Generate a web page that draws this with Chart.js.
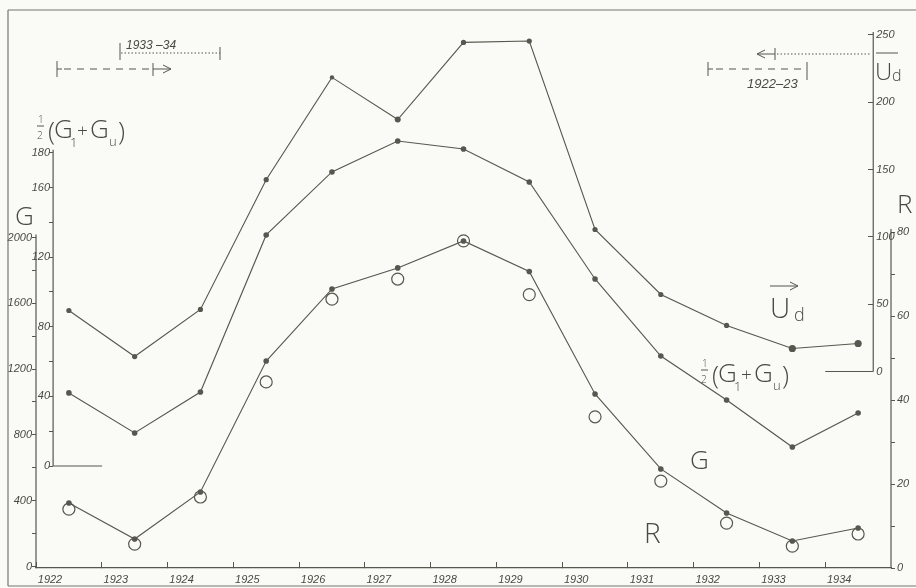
<!DOCTYPE html>
<html>
<head>
<meta charset="utf-8">
<title>G, ½(G1+Gu), Ud, R 1922–1934</title>
<script src="https://cdn.jsdelivr.net/npm/chart.js@4.4.1/dist/chart.umd.min.js"></script>
<style>
    html, body { margin: 0; padding: 0; background: #fafaf6; }
    #grafico { display: block; }
</style>
</head>
<body>
<canvas id="grafico" width="916" height="588"></canvas>
<script>
// ====================================
// Datos por año (punto a mitad de año)
// ====================================
const anos = [1922, 1923, 1924, 1925, 1926, 1927, 1928, 1929, 1930, 1931, 1932, 1933, 1934];
const valoresUd = [45.3, 11.1, 46.1, 142.5, 218.5, 187.2, 244.5, 245.5, 105.5, 57.2, 34.2, 17.1, 20.8];
const valoresMedia = [42.0, 19.0, 42.5, 132.8, 169.0, 186.8, 182.2, 163.2, 107.5, 63.2, 37.9, 10.9, 30.5];
const valoresG = [386, 167, 453, 1249, 1687, 1815, 1979, 1793, 1049, 593, 325, 155, 234];
const valoresR = [14.0, 5.7, 16.9, 44.3, 64.0, 68.8, 77.9, 65.1, 36.0, 20.7, 10.7, 5.2, 8.1];

// marcas de cada eje
const ticksG = [0, 200, 400, 600, 800, 1000, 1200, 1400, 1600, 1800, 2000];
const ticksMedia = [0, 20, 40, 60, 80, 100, 120, 140, 160, 180];
const etiquetasMedia = [0, 40, 80, 120, 160, 180];
const ticksUd = [0, 50, 100, 150, 200, 250];
const ticksR = [0, 10, 20, 30, 40, 50, 60, 70, 80];

// posicion de los ejes interiores (en años)
const posEjeMedia = 1922.26;
const posEjeUd = 1934.73;

const colorLinea = '#57574f';
const colorTexto = '#4a4a43';
const fuenteTicks = { family: 'Liberation Sans', size: 11, style: 'italic' };
const fuenteLetra = '300 26px "Open Sans", sans-serif';

function puntos(valores) {
    return anos.map((a, i) => ({ x: a + 0.5, y: valores[i] }));
}

function ejeY(extra) {
    return Object.assign({
        type: 'linear',
        border: { display: false },
        grid: { drawOnChartArea: false, drawTicks: true, tickLength: 4, color: colorLinea, lineWidth: 1 },
        ticks: { font: fuenteTicks, color: colorTexto, autoSkip: false, padding: 1 }
    }, extra);
}

//linea con punta de flecha en x2
function flecha(ctx, x1, y, x2) {
    const d = x2 > x1 ? -1 : 1;
    ctx.beginPath();
    ctx.moveTo(x1, y);
    ctx.lineTo(x2, y);
    ctx.moveTo(x2 + d * 8, y - 4);
    ctx.lineTo(x2, y);
    ctx.lineTo(x2 + d * 8, y + 4);
    ctx.stroke();
}

function barra(ctx, x, y1, y2) {
    ctx.beginPath();
    ctx.moveTo(x, y1);
    ctx.lineTo(x, y2);
    ctx.stroke();
}

function linea(ctx, x1, y1, x2, y2, trazos) {
    ctx.setLineDash(trazos || []);
    ctx.beginPath();
    ctx.moveTo(x1, y1);
    ctx.lineTo(x2, y2);
    ctx.stroke();
    ctx.setLineDash([]);
}

//rotulo ½(G1+Gu)
function dibujarMedia(ctx, x0, base) {
    ctx.font = '300 10px "Open Sans", sans-serif';
    ctx.fillText('1', x0 + 2, base - 15);
    ctx.fillText('2', x0 + 1, base + 1);
    linea(ctx, x0 + 1, base - 12, x0 + 8, base - 12);
    ctx.font = fuenteLetra;
    ctx.fillText('(', x0 + 12, base + 2);
    ctx.fillText('G', x0 + 18, base);
    ctx.fillText('G', x0 + 54, base);
    ctx.fillText(')', x0 + 82, base + 2);
    ctx.font = '300 19px "Open Sans", sans-serif';
    ctx.fillText('+', x0 + 41, base - 1);
    ctx.font = '300 13px "Open Sans", sans-serif';
    ctx.fillText('1', x0 + 34, base + 9);
    ctx.fillText('u', x0 + 73, base + 8);
}

// plugin: fondo, marco, ejes parciales y rotulos
const decoracion = {
    id: 'decoracion',
    beforeDraw(chart) {
        const ctx = chart.ctx;
        ctx.save();
        ctx.fillStyle = '#fafaf6';
        ctx.fillRect(0, 0, chart.width, chart.height);
        ctx.restore();
    },
    afterDraw(chart) {
        const ctx = chart.ctx;
        const area = chart.chartArea;
        const sx = chart.scales.x;
        const sG = chart.scales.yG;
        const sM = chart.scales.yMedia;
        const sU = chart.scales.yUd;
        const sR = chart.scales.yR;
        const xMedia = sx.getPixelForValue(posEjeMedia);
        const xUd = sx.getPixelForValue(posEjeUd);

        ctx.save();
        ctx.strokeStyle = colorLinea;
        ctx.fillStyle = colorTexto;
        ctx.lineWidth = 1.2;

        //marco
        ctx.strokeStyle = '#77776f';
        linea(ctx, 8, 10, 916, 10);
        linea(ctx, 8, 10, 8, 586);
        linea(ctx, 8, 586, 916, 586);
        ctx.strokeStyle = colorLinea;

        //lineas de los ejes verticales
        linea(ctx, area.left, area.bottom, area.left, sG.getPixelForValue(2000) - 3);
        linea(ctx, xMedia, sM.getPixelForValue(0), xMedia, sM.getPixelForValue(180) - 3);
        linea(ctx, xMedia, sM.getPixelForValue(0), xMedia + 49, sM.getPixelForValue(0));
        linea(ctx, xUd, sU.getPixelForValue(0), xUd, sU.getPixelForValue(250) - 3);
        linea(ctx, xUd - 48, sU.getPixelForValue(0), xUd, sU.getPixelForValue(0));
        linea(ctx, area.right, area.bottom, area.right, sR.getPixelForValue(80) - 3);

        //etiquetas de los ejes interiores
        ctx.font = 'italic 11px "Liberation Sans"';
        ctx.textBaseline = 'middle';
        ctx.textAlign = 'right';
        etiquetasMedia.forEach(v => ctx.fillText(String(v), xMedia - 3, sM.getPixelForValue(v)));
        ctx.textAlign = 'left';
        sU.ticks.forEach(t => ctx.fillText(String(t.value), xUd + 3, sU.getPixelForValue(t.value)));

        ctx.textBaseline = 'alphabetic';
        ctx.lineWidth = 1;

        //periodos arriba a la izquierda
        ctx.font = 'italic 12px "Liberation Sans"';
        ctx.fillText('1933 –34', 126, 49);
        linea(ctx, 121, 53, 220, 53, [1.5, 2]);
        barra(ctx, 120, 43, 60);
        barra(ctx, 220, 47, 60);
        barra(ctx, 57, 61, 77);
        linea(ctx, 57, 69, 62, 69);
        linea(ctx, 64, 69, 150, 69, [7, 6]);
        barra(ctx, 153, 63, 76);
        flecha(ctx, 153, 69, 171);

        //periodos arriba a la derecha
        flecha(ctx, 775, 54, 757);
        barra(ctx, 775, 48, 60);
        linea(ctx, 777, 54, xUd - 2, 54, [1.5, 2]);
        barra(ctx, 708, 62, 76);
        linea(ctx, 708, 69, 713, 69);
        linea(ctx, 716, 69, 803, 69, [7, 6]);
        barra(ctx, 807, 62, 80);
        ctx.font = 'italic 13px "Liberation Sans"';
        ctx.fillText('1922–23', 747, 88);

        //nombres de los ejes
        dibujarMedia(ctx, 36, 138);
        ctx.font = fuenteLetra;
        ctx.fillText('G', 15, 225);
        ctx.fillText('R', 897, 213);
        linea(ctx, 876, 53, 898, 53);
        ctx.font = '300 24px "Open Sans", sans-serif';
        ctx.fillText('U', 875, 80);
        ctx.font = '300 16px "Open Sans", sans-serif';
        ctx.fillText('d', 892, 81);

        //nombres de las curvas
        dibujarMedia(ctx, 700, 382);
        ctx.font = fuenteLetra;
        ctx.fillText('G', 690, 469);
        ctx.font = '300 28px "Open Sans", sans-serif';
        ctx.fillText('R', 644, 543);
        ctx.fillText('U', 770, 318);
        ctx.font = '300 18px "Open Sans", sans-serif';
        ctx.fillText('d', 794, 321);
        flecha(ctx, 770, 286, 798);

        ctx.restore();
    }
};

function estiloSerie(extra) {
    return Object.assign({
        borderColor: colorLinea,
        borderWidth: 1.1,
        tension: 0,
        pointRadius: 2.8,
        pointBackgroundColor: colorLinea,
        pointBorderWidth: 0
    }, extra);
}

new Chart(document.getElementById('grafico'), {
    type: 'line',
    data: {
        datasets: [
            estiloSerie({ label: 'Ud', data: puntos(valoresUd), yAxisID: 'yUd',
                pointRadius: [2.6, 2.6, 2.6, 2.6, 2.2, 3, 2.6, 2.6, 2.6, 2.6, 2.6, 3.6, 3.6] }),
            estiloSerie({ label: '½(G1+Gu)', data: puntos(valoresMedia), yAxisID: 'yMedia' }),
            estiloSerie({ label: 'G', data: puntos(valoresG), yAxisID: 'yG' }),
            {
                label: 'R',
                data: puntos(valoresR),
                yAxisID: 'yR',
                showLine: false,
                pointRadius: 6,
                pointBackgroundColor: 'rgba(0,0,0,0)',
                pointBorderColor: colorLinea,
                pointBorderWidth: 1.2
            }
        ]
    },
    options: {
        responsive: false,
        animation: false,
        devicePixelRatio: 1,
        layout: { padding: { top: 20, left: 0, right: 0, bottom: 0 } },
        plugins: {
            legend: { display: false },
            tooltip: { enabled: false }
        },
        scales: {
            x: {
                type: 'linear',
                position: 'bottom',
                min: 1922,
                max: 1935,
                afterBuildTicks: s => { s.ticks = anos.map(v => ({ value: v })); },
                afterFit: s => { s.height = 20; },
                border: { display: true, color: colorLinea, width: 1.2 },
                grid: { drawOnChartArea: false, drawTicks: true, tickLength: -6, color: colorLinea },
                ticks: {
                    font: fuenteTicks, color: colorTexto, autoSkip: false, maxRotation: 0,
                    padding: 11, labelOffset: 14,
                    callback: v => String(v)
                }
            },
            yG: ejeY({
                position: 'left',
                min: -9.1,
                max: 3322,
                afterBuildTicks: s => { s.ticks = ticksG.map(v => ({ value: v })); },
                afterFit: s => { s.width = 36; },
                ticks: { font: fuenteTicks, color: colorTexto, autoSkip: false, padding: 0,
                    callback: v => (v % 400 === 0 ? String(v) : '') }
            }),
            yMedia: ejeY({
                position: { x: posEjeMedia },
                min: -58.62,
                max: 256.32,
                afterBuildTicks: s => { s.ticks = ticksMedia.map(v => ({ value: v })); },
                ticks: { display: false }
            }),
            yUd: ejeY({
                position: { x: posEjeUd },
                min: -145.99,
                max: 261.14,
                afterBuildTicks: s => { s.ticks = ticksUd.map(v => ({ value: v })); },
                grid: { drawOnChartArea: false, drawTicks: true, tickLength: 5, color: colorLinea },
                ticks: { display: false }
            }),
            yR: ejeY({
                position: 'right',
                min: 0,
                max: 130.48,
                afterBuildTicks: s => { s.ticks = ticksR.map(v => ({ value: v })); },
                afterFit: s => { s.width = 25; },
                ticks: { font: fuenteTicks, color: colorTexto, autoSkip: false, padding: 2,
                    callback: v => (v % 20 === 0 ? String(v) : '') }
            })
        }
    },
    plugins: [decoracion]
});
</script>
</body>
</html>
